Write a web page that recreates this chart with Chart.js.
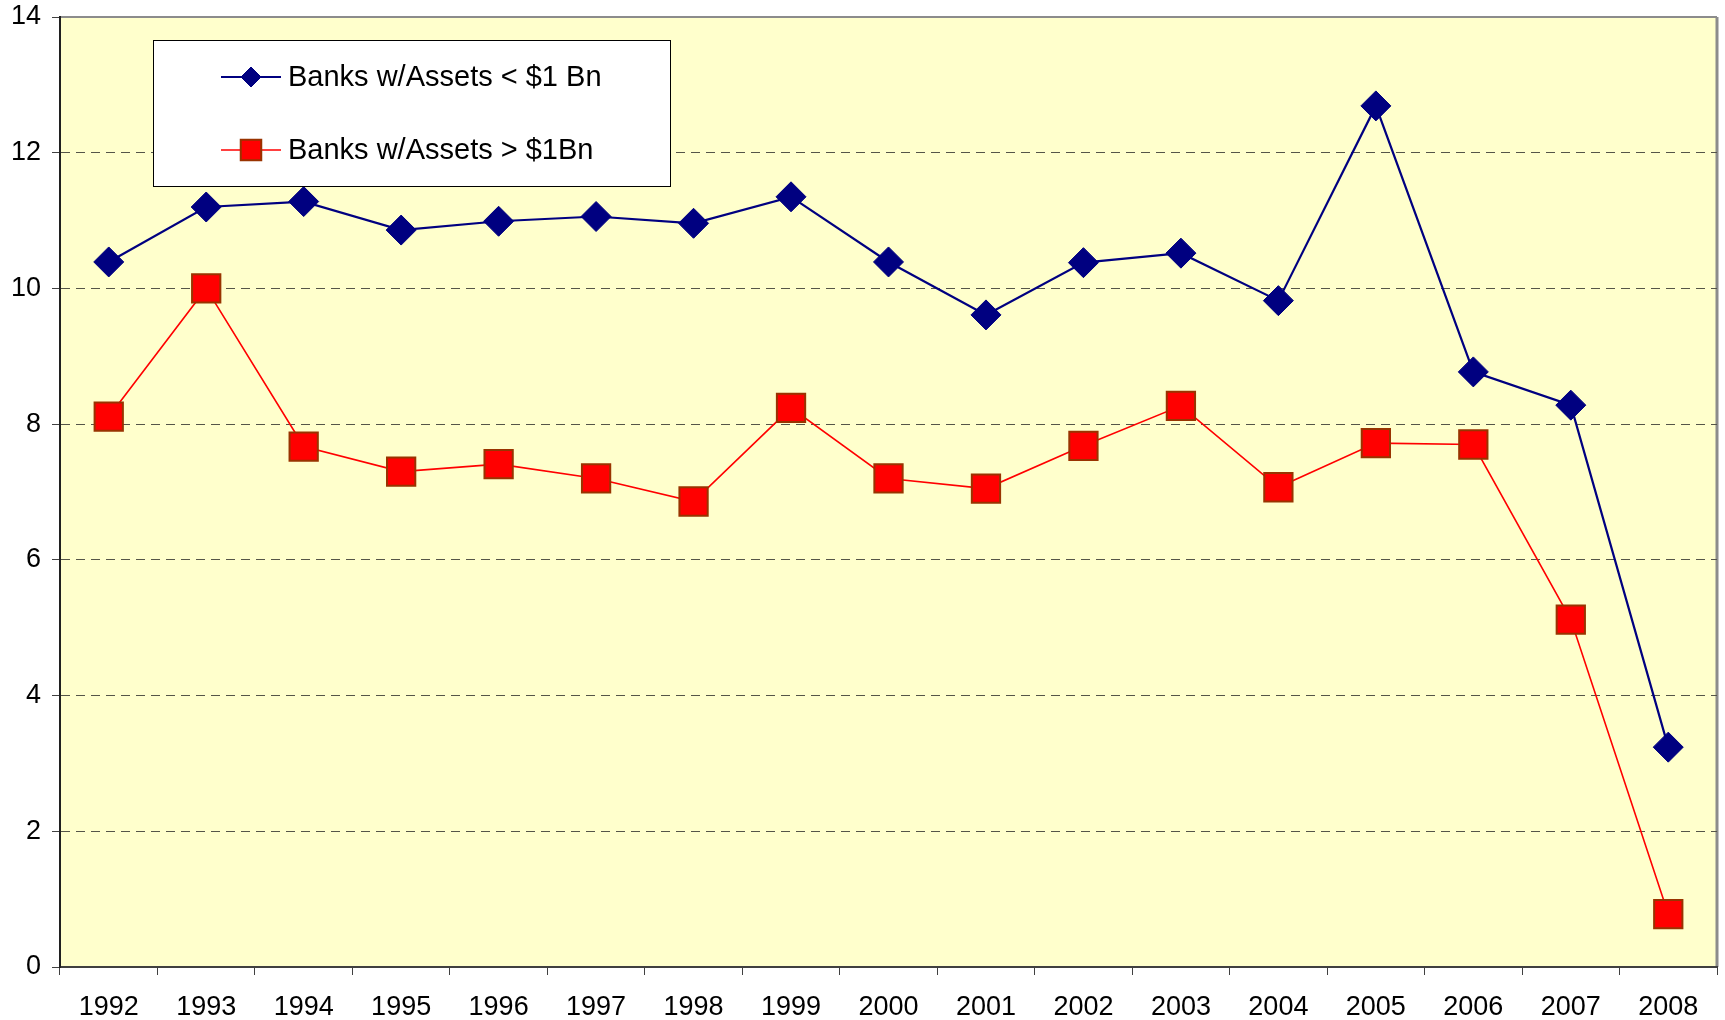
<!DOCTYPE html>
<html>
<head>
<meta charset="utf-8">
<script src="https://cdn.jsdelivr.net/npm/chart.js@4/dist/chart.umd.min.js"></script>
<style>
  html, body { margin: 0; padding: 0; background: #fff; overflow: hidden; }
  #wrap { width: 1725px; height: 1020px; }
</style>
</head>
<body>
<div id="wrap"><canvas id="chart"></canvas></div>
<script>
// Data
const years = ['1992', '1993', '1994', '1995', '1996', '1997', '1998', '1999', '2000',
    '2001', '2002', '2003', '2004', '2005', '2006', '2007', '2008'];
const smallBanks = [10.39, 11.2, 11.28, 10.86, 10.99, 11.06, 10.96, 11.35, 10.39,
    9.61, 10.38, 10.52, 9.82, 12.69, 8.77, 8.28, 3.24];
const largeBanks = [8.11, 10.0, 7.67, 7.3, 7.41, 7.2, 6.86, 8.24, 7.2,
    7.05, 7.68, 8.27, 7.07, 7.72, 7.7, 5.12, 0.78];
const yTicks = [0, 2, 4, 6, 8, 10, 12, 14];
const seriesNames = ['Banks w/Assets < $1 Bn', 'Banks w/Assets > $1Bn'];

const fontFamily = '"Liberation Sans", Arial, sans-serif';

/**
 * Pale yellow plot area with the grey top / right edges
 */
const plotBackground = {
    id: 'plotBackground',
    beforeDraw(chart) {
        const { ctx, chartArea: a } = chart;
        ctx.save();
        ctx.fillStyle = '#FFFFCC';
        ctx.fillRect(a.left, a.top, a.right - a.left, a.bottom - a.top);
        ctx.strokeStyle = '#8c8c8c';
        ctx.lineWidth = 2;
        ctx.beginPath();
        ctx.moveTo(a.left, a.top);
        ctx.lineTo(a.right, a.top);
        ctx.stroke();
        ctx.lineWidth = 3;
        ctx.beginPath();
        ctx.moveTo(a.right, a.top);
        ctx.lineTo(a.right, a.bottom);
        ctx.stroke();
        ctx.restore();
    }
};

/**
 * Boxed legend sitting inside the plot area
 */
const boxLegend = {
    id: 'boxLegend',
    afterDraw(chart) {
        const { ctx } = chart;
        const box = { x: 153, y: 40, w: 517, h: 146 };
        ctx.save();
        ctx.fillStyle = '#ffffff';
        ctx.fillRect(box.x, box.y, box.w, box.h);
        ctx.strokeStyle = '#000000';
        ctx.lineWidth = 1;
        ctx.strokeRect(box.x + 0.5, box.y + 0.5, box.w, box.h);

        const rows = [77, 150];
        chart.data.datasets.forEach((ds, i) => {
            const y = rows[i];
            ctx.strokeStyle = ds.borderColor;
            ctx.lineWidth = ds.borderWidth;
            ctx.beginPath();
            ctx.moveTo(221, y);
            ctx.lineTo(281, y);
            ctx.stroke();
            ctx.fillStyle = ds.pointBackgroundColor;
            ctx.strokeStyle = ds.pointBorderColor;
            ctx.lineWidth = ds.pointBorderWidth;
            Chart.helpers.drawPoint(ctx, {
                pointStyle: ds.pointStyle,
                radius: i === 0 ? 10 : 14.5,
                borderWidth: ds.pointBorderWidth
            }, 251, y);

            ctx.fillStyle = '#000000';
            ctx.font = '29px ' + fontFamily;
            ctx.textBaseline = 'middle';
            ctx.textAlign = 'left';
            ctx.fillText(ds.label, 288, y + 1);
        });
        ctx.restore();
    }
};

new Chart(document.getElementById('chart'), {
    type: 'line',
    data: {
        labels: years,
        datasets: [{
            label: seriesNames[0],
            data: smallBanks,
            borderColor: '#000080',
            borderWidth: 2.2,
            pointStyle: 'rectRot',
            pointRadius: 15,
            pointHoverRadius: 15,
            pointBackgroundColor: '#000080',
            pointBorderColor: '#000080',
            pointBorderWidth: 1,
            tension: 0,
            clip: false
        }, {
            label: seriesNames[1],
            data: largeBanks,
            borderColor: '#FF0000',
            borderWidth: 1.6,
            pointStyle: 'rect',
            pointRadius: 20,
            pointHoverRadius: 20,
            pointBackgroundColor: '#FF0000',
            pointBorderColor: '#993300',
            pointBorderWidth: 2,
            tension: 0,
            clip: false
        }]
    },
    options: {
        responsive: true,
        maintainAspectRatio: false,
        animation: false,
        layout: {
            autoPadding: false,
            padding: { top: 17, right: 8, left: 0, bottom: 0 }
        },
        plugins: {
            legend: { display: false },
            tooltip: { enabled: false }
        },
        scales: {
            x: {
                offset: true,
                grid: {
                    offset: true,
                    drawOnChartArea: false,
                    drawTicks: true,
                    tickLength: 8,
                    color: '#404040'
                },
                border: { color: '#404040', width: 2 },
                ticks: {
                    color: '#000000',
                    padding: 16,
                    maxRotation: 0,
                    autoSkip: false,
                    font: { family: fontFamily, size: 27 }
                },
                afterFit(scale) {
                    scale.height = 53;
                    scale.paddingLeft = 0;
                    scale.paddingRight = 0;
                }
            },
            y: {
                min: 0,
                max: 14,
                afterBuildTicks(scale) {
                    scale.ticks = yTicks.map(v => ({ value: v }));
                },
                grid: {
                    color: (c) => (c.tick && (c.tick.value === 0 || c.tick.value === 14)) ? 'rgba(0,0,0,0)' : '#555548',
                    lineWidth: 1,
                    drawTicks: true,
                    tickLength: 8,
                    tickColor: '#404040',
                    tickBorderDash: []
                },
                border: { color: '#202020', width: 2, dash: [9, 6] },
                ticks: {
                    color: '#000000',
                    padding: 11,
                    font: { family: fontFamily, size: 27 }
                },
                afterFit(scale) {
                    scale.width = 60;
                    scale.paddingTop = 0;
                    scale.paddingBottom = 0;
                }
            }
        }
    },
    plugins: [plotBackground, boxLegend]
});
</script>
</body>
</html>
